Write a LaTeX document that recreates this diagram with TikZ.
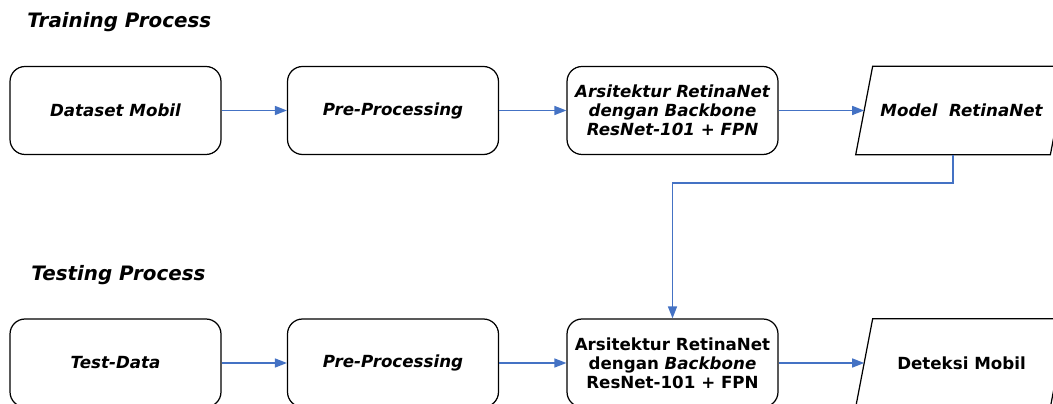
\documentclass[tikz,border=0pt]{standalone}
\usepackage{fontspec}
\setmainfont{DejaVu Sans}
\usetikzlibrary{arrows.meta,calc}
\definecolor{lineblue}{HTML}{4472C4}
\tikzset{
  stepbox/.style={draw, line width=0.7pt, rounded corners=0.3cm,
    minimum width=4.22cm, minimum height=1.76cm, align=center,
    font=\fontsize{9.5}{10.8}\selectfont\bfseries},
  iobox/.style={minimum width=4.22cm, minimum height=1.76cm, align=center,
    font=\fontsize{9.5}{10.8}\selectfont\bfseries},
  flow/.style={lineblue, line width=0.85pt, -{Triangle[length=2.4mm, width=1.8mm]}},
  phase/.style={anchor=west, inner sep=0pt, font=\fontsize{11.3}{13}\selectfont\bfseries\itshape}
}
\newcommand{\slantframe}[1]{%
  \draw[line width=0.7pt] (#1.south west) -- ($(#1.south east)+(-17,0)$)
    -- (#1.north east) -- ($(#1.north west)+(17,0)$) -- cycle;}
\begin{document}
\begin{tikzpicture}[x=0.02cm, y=-0.02cm]
  \useasboundingbox (0,0) rectangle (1053,404);
  \clip (0,0) rectangle (1053,404);

  % training
  \node[phase] (trainlabel) at (27,22) {Training Process};
  \node[stepbox] (dataset) at (115.5,110.5) {\itshape Dataset Mobil};
  \node[stepbox] (preA) at (393,110.5) {\itshape Pre-Processing};
  \node[stepbox] (netA) at (672.5,110.5) {\itshape Arsitektur RetinaNet\\ \itshape dengan Backbone\\ \itshape ResNet-101 + FPN};
  \node[iobox] (model) at (961.5,110.5) {\itshape Model\ \ RetinaNet};
  \slantframe{model}

  \draw[flow] (dataset) -- (preA);
  \draw[flow] (preA) -- (netA);
  \draw[flow] (netA) -- ($(model.west)+(8.5,0)$);

  % testing
  \node[phase] (testlabel) at (31,275) {Testing Process};
  \node[stepbox] (testdata) at (115.5,363) {\itshape Test-Data};
  \node[stepbox] (preB) at (393,363) {\itshape Pre-Processing};
  \node[stepbox] (netB) at (672.5,363) {Arsitektur RetinaNet\\ dengan \textit{Backbone}\\ ResNet-101 + FPN};
  \node[iobox] (result) at (961.5,363) {Deteksi Mobil};
  \slantframe{result}

  \draw[flow] (testdata) -- (preB);
  \draw[flow] (preB) -- (netB);
  \draw[flow] (netB) -- ($(result.west)+(8.5,0)$);

  \coordinate (modelout) at ($(model.south)+(-8.5,0)$);
  \draw[flow] (modelout) -- ++(0,28) -| (netB.north);
\end{tikzpicture}
\end{document}
